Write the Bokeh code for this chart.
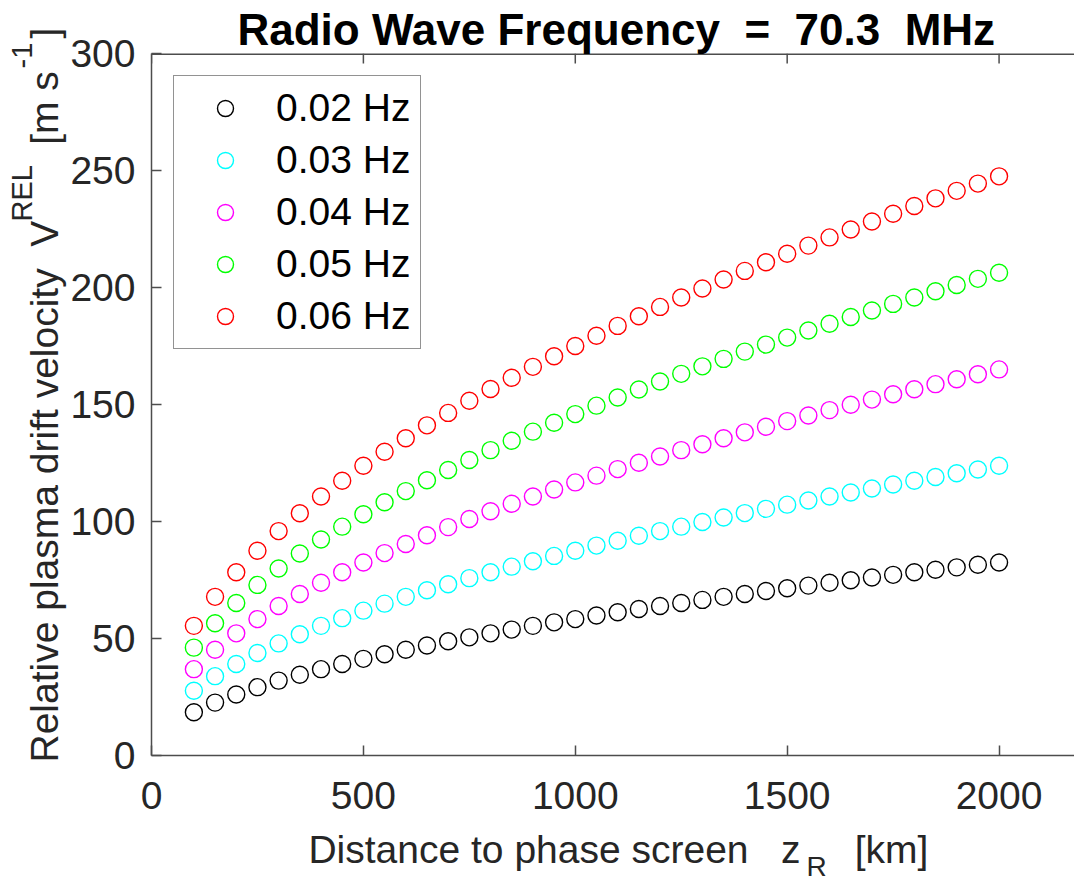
from bokeh.plotting import figure
from bokeh.models import Range1d, FixedTicker, Legend, LegendItem, Title
from bokeh.embed import file_html
from bokeh.resources import INLINE

# ---------------- data ----------------
distance_km = [100, 150, 200, 250, 300, 350, 400, 450, 500, 550, 600, 650, 700, 750,
               800, 850, 900, 950, 1000, 1050, 1100, 1150, 1200, 1250, 1300, 1350,
               1400, 1450, 1500, 1550, 1600, 1650, 1700, 1750, 1800, 1850, 1900,
               1950, 2000]

v_002hz = [18.5, 22.6, 26.1, 29.2, 32.0, 34.5, 36.9, 39.1, 41.3, 43.3, 45.2, 47.0,
           48.8, 50.5, 52.2, 53.8, 55.4, 56.9, 58.3, 59.8, 61.2, 62.6, 63.9, 65.2,
           66.5, 67.8, 69.0, 70.3, 71.5, 72.6, 73.8, 74.9, 76.1, 77.2, 78.3, 79.4,
           80.4, 81.5, 82.5]
v_003hz = [27.7, 33.9, 39.1, 43.8, 47.9, 51.8, 55.4, 58.7, 61.9, 64.9, 67.8, 70.6,
           73.2, 75.8, 78.3, 80.7, 83.0, 85.3, 87.5, 89.7, 91.8, 93.9, 95.9, 97.8,
           99.8, 101.7, 103.6, 105.4, 107.2, 109.0, 110.7, 112.4, 114.1, 115.8,
           117.4, 119.0, 120.6, 122.2, 123.8]
v_004hz = [36.9, 45.2, 52.2, 58.3, 63.9, 69.0, 73.8, 78.3, 82.5, 86.5, 90.4, 94.1,
           97.6, 101.1, 104.4, 107.6, 110.7, 113.7, 116.7, 119.6, 122.4, 125.1,
           127.8, 130.5, 133.0, 135.6, 138.1, 140.5, 142.9, 145.3, 147.6, 149.9,
           152.1, 154.4, 156.5, 158.7, 160.8, 162.9, 165.0]
v_005hz = [46.1, 56.5, 65.2, 72.9, 79.9, 86.3, 92.3, 97.8, 103.1, 108.2, 113.0,
           117.6, 122.0, 126.3, 130.5, 134.5, 138.4, 142.2, 145.9, 149.5, 153.0,
           156.4, 159.8, 163.1, 166.3, 169.5, 172.6, 175.6, 178.6, 181.6, 184.5,
           187.4, 190.2, 193.0, 195.7, 198.4, 201.1, 203.7, 206.3]
v_006hz = [55.4, 67.8, 78.3, 87.5, 95.9, 103.5, 110.7, 117.4, 123.8, 129.8, 135.6,
           141.1, 146.4, 151.6, 156.6, 161.4, 166.1, 170.6, 175.0, 179.4, 183.6,
           187.7, 191.7, 195.7, 199.6, 203.4, 207.1, 210.8, 214.4, 217.9, 221.4,
           224.8, 228.2, 231.5, 234.8, 238.1, 241.3, 244.4, 247.5]

series_values = [v_002hz, v_003hz, v_004hz, v_005hz, v_006hz]
series_labels = ["0.02 Hz", "0.03 Hz", "0.04 Hz", "0.05 Hz", "0.06 Hz"]
series_colors = ["#000000", "#00ffff", "#ff00ff", "#00ff00", "#ff0000"]

x_ticks = [0, 500, 1000, 1500, 2000]
y_ticks = [0, 50, 100, 150, 200, 250, 300]

NB = "\u00a0"  # non-collapsing space
title_text = "Radio Wave Frequency" + NB * 2 + "=" + NB * 2 + "70.3" + NB * 2 + "MHz"
xlabel_main = NB + "Distance to phase screen" + NB * 3 + "z" + NB * 5 + "[km]"
xlabel_sub = "R"
ylabel_main = ("Relative plasma drift velocity" + NB * 2 + "V" + NB * 7 + "[m s"
               + NB * 3 + "]")
ylabel_sup = "REL" + NB * 12 + "-1"

# ---------------- layout ----------------
W, H = 1074, 881
FL, FT, FB = 151, 53, 755
X_END, Y_END = 2178, 300
TICK_PX = 10
FONT = "Liberation Sans"
AX_COLOR = "#4d4d4d"
TXT_COLOR = "#262626"

p = figure(width=W, height=H, x_range=Range1d(0, X_END), y_range=Range1d(0, Y_END),
           output_backend="svg", toolbar_location=None,
           min_border_left=FL, min_border_right=0, min_border_top=FT,
           min_border_bottom=H - FB)
p.outline_line_color = None
p.xgrid.visible = False
p.ygrid.visible = False
p.background_fill_color = "white"
p.border_fill_color = "white"

for ax, ticks in ((p.xaxis[0], x_ticks), (p.yaxis[0], y_ticks)):
    ax.ticker = FixedTicker(ticks=ticks)
    ax.axis_line_color = AX_COLOR
    ax.axis_line_width = 1.5
    ax.major_tick_line_color = AX_COLOR
    ax.major_tick_line_width = 1.5
    ax.major_tick_in = TICK_PX
    ax.major_tick_out = 0
    ax.minor_tick_line_color = None
    ax.major_label_text_font = FONT
    ax.major_label_text_font_size = "39px"
    ax.major_label_text_color = TXT_COLOR
p.xaxis[0].major_label_standoff = 26
p.yaxis[0].major_label_standoff = 16

# x axis label (main text) on the axis itself
xa = p.xaxis[0]
xa.axis_label = xlabel_main
xa.axis_label_text_font = FONT
xa.axis_label_text_font_size = "39px"
xa.axis_label_text_font_style = "normal"
xa.axis_label_text_color = TXT_COLOR
xa.axis_label_standoff = 16

# top box edge with inward ticks (mirrors the bottom axis ticks)
ky = (FB - FT) / Y_END
p.line([0, X_END], [Y_END, Y_END], line_color=AX_COLOR, line_width=3)
p.segment(x0=x_ticks, y0=[Y_END] * len(x_ticks), x1=x_ticks,
          y1=[Y_END - TICK_PX / ky] * len(x_ticks), line_color=AX_COLOR,
          line_width=1.5)

items = []
for vals, lab, col in zip(series_values, series_labels, series_colors):
    r = p.scatter(distance_km, vals, marker="circle", size=17, fill_color=None,
                  line_color=col, line_width=1.4)
    items.append(LegendItem(label=lab, renderers=[r]))

legend = Legend(items=items, location="top_left", margin=22, padding=10, spacing=8,
                glyph_width=82, glyph_height=40, label_height=40, label_standoff=10,
                label_text_font=FONT, label_text_font_size="39px",
                label_text_color="#000000", border_line_color="#262626",
                border_line_width=1.3, background_fill_color="white",
                background_fill_alpha=1.0)
p.add_layout(legend)

# title
p.title.text = title_text
p.title.text_font = FONT
p.title.text_font_size = "44px"
p.title.text_font_style = "bold"
p.title.text_color = "#000000"
p.title.align = "left"
p.title.offset = 86
p.title.standoff = 0
p.title.vertical_align = "bottom"

# subscript of the x label, pulled back up next to "z"
p.add_layout(Title(text=xlabel_sub, text_font=FONT, text_font_size="28px",
                   text_font_style="normal", text_color=TXT_COLOR, align="left",
                   offset=655, standoff=-46, vertical_align="top"), "below")

# y axis label (main band + superscript band)
p.add_layout(Title(text=ylabel_main, text_font=FONT, text_font_size="39px",
                   text_font_style="normal", text_color=TXT_COLOR, align="left",
                   offset=-7, standoff=3, vertical_align="bottom"), "left")
p.add_layout(Title(text=ylabel_sup, text_font=FONT, text_font_size="29px",
                   text_font_style="normal", text_color=TXT_COLOR, align="left",
                   offset=534, standoff=-37, vertical_align="bottom"), "left")

open("out.html", "w").write(file_html(p, INLINE))
